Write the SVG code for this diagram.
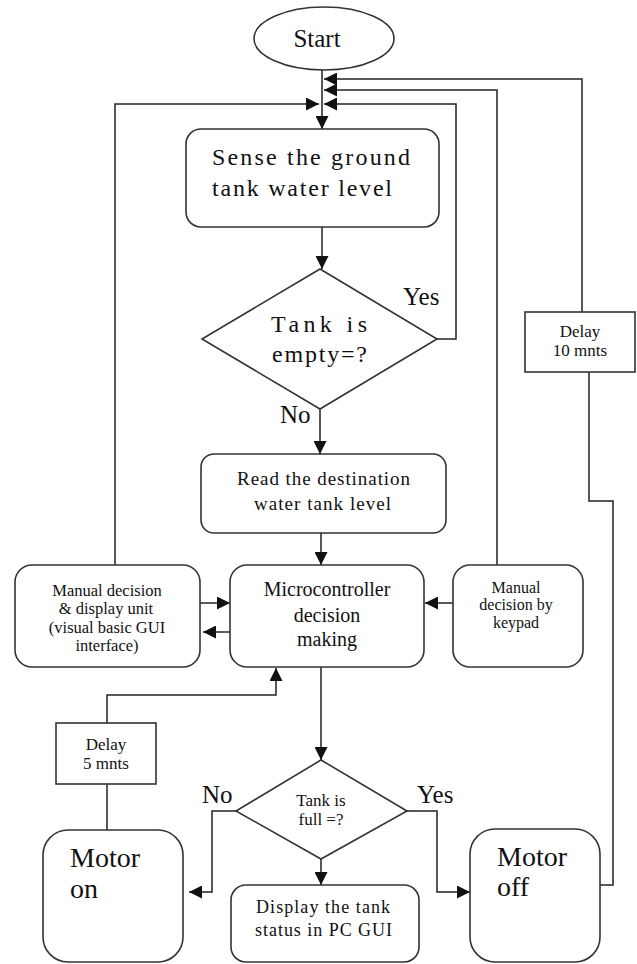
<svg xmlns="http://www.w3.org/2000/svg" width="637" height="964" viewBox="0 0 637 964">
<style>
.box{fill:#fff;stroke:#333;stroke-width:1.6}
.ln{fill:none;stroke:#222;stroke-width:1.5}
.arr{marker-end:url(#ah)}
text{font-family:"Liberation Serif","Times New Roman",serif;fill:#111}
.c{text-anchor:middle}
</style>
<defs>
<marker id="ah" markerUnits="userSpaceOnUse" markerWidth="14" markerHeight="13" refX="13" refY="6.5" orient="auto">
<path d="M0,0 L13,6.5 L0,13 z" fill="#111"/>
</marker>
</defs>
<rect width="637" height="964" fill="#fff"/>

<g id="connectors">
<path class="ln arr" d="M322,70 V129"/>
<path class="ln arr" d="M115,565 V104 H319"/>
<path class="ln arr" d="M437,339 H456 V104 H324"/>
<path class="ln arr" d="M497,565 V90 H324"/>
<path class="ln arr" d="M582,312 V79 H324"/>
<path class="ln" d="M589,372 V501 H613 V885 H600"/>
<path class="ln arr" d="M322,227 V269"/>
<path class="ln arr" d="M320,409 V454"/>
<path class="ln arr" d="M321,533 V565"/>
<path class="ln arr" d="M200,603 H230"/>
<path class="ln arr" d="M230,632 H203"/>
<path class="ln arr" d="M453,603 H425"/>
<path class="ln arr" d="M321,667 V760"/>
<path class="ln arr" d="M107,723 V695 H276 V668"/>
<path class="ln" d="M107,784 V830"/>
<path class="ln arr" d="M236,811 H212 V892 H189"/>
<path class="ln arr" d="M407,811 H437 V892 H470"/>
<path class="ln arr" d="M321,859 V885"/>
</g>

<g id="start">
<ellipse class="box" cx="324" cy="38.5" rx="70" ry="31.5"/>
<text x="317" y="47" class="c" font-size="25">Start</text>
</g>

<g id="sense">
<rect class="box" x="186" y="129" width="253" height="98" rx="15"/>
<text x="212" y="165" font-size="24" textLength="198" lengthAdjust="spacing">Sense the ground</text>
<text x="212" y="196" font-size="24" textLength="180" lengthAdjust="spacing">tank water level</text>
</g>

<g id="empty">
<polygon class="box" points="320,269 437,339 320,409 202,339"/>
<text x="271" y="332" font-size="24" textLength="96" lengthAdjust="spacing">Tank   is</text>
<text x="272" y="362" font-size="24" textLength="95" lengthAdjust="spacing">empty=?</text>
<text x="403" y="305" font-size="25">Yes</text>
<text x="280" y="423" font-size="25">No</text>
</g>

<g id="delay10">
<rect class="box" x="525" y="312" width="110" height="60"/>
<text x="580" y="337" class="c" font-size="17">Delay</text>
<text x="580" y="356" class="c" font-size="17">10 mnts</text>
</g>

<g id="read">
<rect class="box" x="201" y="454" width="245" height="79" rx="13"/>
<text x="237" y="485" font-size="19" textLength="173" lengthAdjust="spacing">Read the destination</text>
<text x="254" y="510" font-size="19" textLength="137" lengthAdjust="spacing">water tank level</text>
</g>

<g id="manual-gui">
<rect class="box" x="15" y="565" width="185" height="102" rx="17"/>
<text x="107" y="596" class="c" font-size="16.5">Manual decision</text>
<text x="106" y="614" class="c" font-size="16.5">&amp; display unit</text>
<text x="107" y="633" class="c" font-size="16.5">(visual basic GUI</text>
<text x="107" y="651" class="c" font-size="16.5">interface)</text>
</g>

<g id="micro">
<rect class="box" x="230" y="565" width="194" height="102" rx="17"/>
<text x="327" y="596" class="c" font-size="20">Microcontroller</text>
<text x="327" y="622" class="c" font-size="20">decision</text>
<text x="327" y="646" class="c" font-size="20">making</text>
</g>

<g id="keypad">
<rect class="box" x="453" y="565" width="130" height="102" rx="17"/>
<text x="516" y="593" class="c" font-size="16">Manual</text>
<text x="516" y="610" class="c" font-size="16">decision by</text>
<text x="516" y="628" class="c" font-size="16">keypad</text>
</g>

<g id="delay5">
<rect class="box" x="56" y="723" width="100" height="61"/>
<text x="106" y="750" class="c" font-size="17">Delay</text>
<text x="106" y="769" class="c" font-size="17">5 mnts</text>
</g>

<g id="full">
<polygon class="box" points="321,760 407,811 321,859 236,811"/>
<text x="321" y="806" class="c" font-size="17">Tank is</text>
<text x="321" y="825" class="c" font-size="17">full =?</text>
<text x="202" y="803" font-size="25">No</text>
<text x="417" y="803" font-size="25">Yes</text>
</g>

<g id="motor-on">
<rect class="box" x="43" y="830" width="140" height="132" rx="25"/>
<text x="70" y="867" font-size="28">Motor</text>
<text x="70" y="898" font-size="28">on</text>
</g>

<g id="display">
<rect class="box" x="231" y="885" width="188" height="77" rx="15"/>
<text x="256" y="913" font-size="18" textLength="134" lengthAdjust="spacing">Display the tank</text>
<text x="255" y="936" font-size="18" textLength="137" lengthAdjust="spacing">status in PC GUI</text>
</g>

<g id="motor-off">
<rect class="box" x="470" y="829" width="130" height="133" rx="25"/>
<text x="497" y="866" font-size="28">Motor</text>
<text x="497" y="896" font-size="28">off</text>
</g>
</svg>
